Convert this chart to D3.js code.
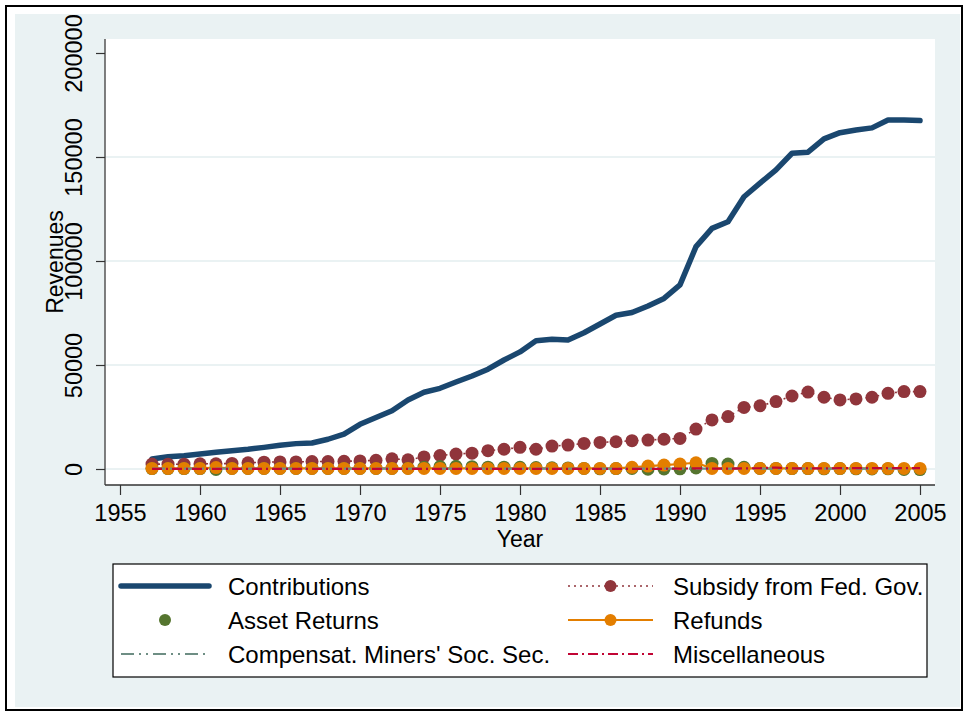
<!DOCTYPE html>
<html><head><meta charset="utf-8">
<script src="https://d3js.org/d3.v7.min.js"></script>
<style>
html,body{margin:0;padding:0;background:#fff;}
svg text{font-family:"Liberation Sans",Arial,sans-serif;fill:#000;}
</style></head>
<body>
<svg id="chart" width="968" height="716"></svg>
<script>
const years = d3.range(1957, 2006);
const contributions = [4800,5900,6400,7200,8000,8800,9500,10400,11400,12200,12500,14300,16800,21500,24800,28000,33200,36900,38800,41800,44700,48000,52400,56300,61700,62400,62000,65500,69700,73900,75200,78400,82000,88500,106900,115700,118900,130900,137400,143800,151800,152300,158700,161700,163000,164000,167800,167800,167500];
const subsidy = [2400,2300,2300,2500,2500,2700,3000,3300,3400,3400,3600,3600,3700,3900,4200,4900,4400,5800,6500,7200,7600,8800,9500,10400,9500,11000,11500,12300,12800,13100,13600,13900,14300,14700,19200,23600,25200,29600,30400,32400,35100,37000,34500,33200,33700,34500,36400,37200,37200];
const assetReturns = [200,200,200,200,-200,300,300,300,300,300,300,300,300,300,300,300,400,900,1200,1300,1100,900,900,800,700,600,500,300,100,200,300,-100,0,100,500,2700,2400,800,300,300,200,200,100,200,100,0,100,-200,-300];
const refunds = [300,300,300,300,700,300,300,300,300,300,300,300,300,300,300,300,300,300,300,300,300,300,300,300,300,300,300,300,300,300,800,1400,1900,2400,3000,300,300,300,300,300,300,300,300,300,300,300,300,300,300];
const compensat = [200,200,200,200,200,200,200,200,200,200,200,200,200,200,200,200,200,200,200,200,200,200,200,200,200,200,200,200,200,200,200,200,200,200,200,200,200,200,200,200,200,200,200,200,200,200,200,200,200];
const miscellaneous = [100,100,100,100,100,100,100,100,100,100,100,100,100,100,100,100,100,100,100,100,100,100,100,100,100,100,100,100,100,100,100,100,100,200,300,200,200,300,400,700,300,300,300,400,400,400,400,400,400];
const xTicks = [1955,1960,1965,1970,1975,1980,1985,1990,1995,2000,2005];
const yTicks = [0,50000,100000,150000,200000];
const seriesNames = ["Contributions","Subsidy from Fed. Gov.","Asset Returns","Refunds","Compensat. Miners' Soc. Sec.","Miscellaneous"];

const svg = d3.select("#chart");
svg.append("rect").attr("x",6).attr("y",6).attr("width",956).attr("height",704)
  .attr("fill","#fff").attr("stroke","#000").attr("stroke-width",2);
svg.append("rect").attr("x",15).attr("y",14).attr("width",945).attr("height",693).attr("fill","#eaf2f3");

const L=105, R=935, T=39, B=485;
svg.append("rect").attr("x",L).attr("y",T).attr("width",R-L).attr("height",B-T).attr("fill","#fff");

const x = d3.scaleLinear().domain([1955,2005]).range([120,920]);
const y = d3.scaleLinear().domain([0,200000]).range([469,53]);

svg.append("g").selectAll("line").data(yTicks.filter(d=>d<200000)).join("line")
  .attr("x1",L).attr("x2",R).attr("y1",d=>y(d)).attr("y2",d=>y(d))
  .attr("stroke","#eaf2f3").attr("stroke-width",2);

const yAxis = svg.append("g").attr("transform",`translate(${L},0)`)
  .call(d3.axisLeft(y).tickValues(yTicks).tickSize(9).tickFormat(d3.format("d")));
yAxis.select(".domain").attr("d",`M0,${B}V${T}`).attr("stroke","#555").attr("stroke-width",1.5);
yAxis.selectAll(".tick line").attr("stroke","#333").attr("stroke-width",1.2);
yAxis.selectAll(".tick text").attr("font-size",23.5).attr("font-family","Liberation Sans, Arial, sans-serif")
  .attr("fill","#000").attr("text-anchor","middle").attr("dy",null).attr("x",null)
  .attr("transform","translate(-23,0) rotate(-90)");

const xAxis = svg.append("g").attr("transform",`translate(0,${B})`)
  .call(d3.axisBottom(x).tickValues(xTicks).tickSize(10).tickFormat(d3.format("d")));
xAxis.select(".domain").attr("d",`M${L},0H${R}`).attr("stroke","#333").attr("stroke-width",1.5);
xAxis.selectAll(".tick line").attr("stroke","#333").attr("stroke-width",1.2);
xAxis.selectAll(".tick text").attr("font-size",23.5).attr("font-family","Liberation Sans, Arial, sans-serif")
  .attr("fill","#000").attr("dy",null).attr("y",36);

svg.append("text").attr("x",(L+R)/2).attr("y",547).attr("text-anchor","middle").attr("font-size",23).text("Year");
svg.append("text").attr("transform",`translate(63,${(T+B)/2}) rotate(-90)`).attr("text-anchor","middle").attr("font-size",23).text("Revenues");

const colors = {contrib:"#1a476f", subsidy:"#90353b", asset:"#55752f", refunds:"#e37e00", comp:"#6e8e84", misc:"#c10534"};
const line = arr => d3.line().x((d,i)=>x(years[i])).y(d=>y(d))(arr);
const plot = svg.append("g");

plot.append("path").attr("d",line(contributions)).attr("fill","none").attr("stroke",colors.contrib)
  .attr("stroke-width",5.5).attr("stroke-linejoin","round").attr("stroke-linecap","round");
plot.append("path").attr("d",line(subsidy)).attr("fill","none").attr("stroke",colors.subsidy)
  .attr("stroke-width",1.6).attr("stroke-dasharray","2,4");
plot.append("g").selectAll("circle").data(subsidy).join("circle")
  .attr("cx",(d,i)=>x(years[i])).attr("cy",d=>y(d)).attr("r",6.5).attr("fill",colors.subsidy);
plot.append("g").selectAll("circle").data(assetReturns).join("circle")
  .attr("cx",(d,i)=>x(years[i])).attr("cy",d=>y(d)).attr("r",6.5).attr("fill",colors.asset);
plot.append("path").attr("d",line(refunds)).attr("fill","none").attr("stroke",colors.refunds).attr("stroke-width",2.2);
plot.append("g").selectAll("circle").data(refunds).join("circle")
  .attr("cx",(d,i)=>x(years[i])).attr("cy",d=>y(d)).attr("r",6.5).attr("fill",colors.refunds);
plot.append("path").attr("d",line(compensat)).attr("fill","none").attr("stroke",colors.comp)
  .attr("stroke-width",2.2).attr("stroke-dasharray","13,5,2,5,2,5");
plot.append("path").attr("d",line(miscellaneous)).attr("fill","none").attr("stroke",colors.misc)
  .attr("stroke-width",2.2).attr("stroke-dasharray","10,4,2,4");

const lg = svg.append("g");
lg.append("rect").attr("x",113).attr("y",564).attr("width",814).attr("height",113)
  .attr("fill","#fff").attr("stroke","#000").attr("stroke-width",1.2);
const rows=[586,620,654];
const col1={x0:121,x1:209,tx:228}, col2={x0:568,x1:653,tx:673};
const items=[
  {name:seriesNames[0], c:col1, r:0, stroke:colors.contrib, sw:5.5, dash:null, dot:null},
  {name:seriesNames[1], c:col2, r:0, stroke:colors.subsidy, sw:1.6, dash:"2,4", dot:colors.subsidy},
  {name:seriesNames[2], c:col1, r:1, stroke:null, dot:colors.asset},
  {name:seriesNames[3], c:col2, r:1, stroke:colors.refunds, sw:2.2, dash:null, dot:colors.refunds},
  {name:seriesNames[4], c:col1, r:2, stroke:colors.comp, sw:2.2, dash:"13,5,2,5,2,5", dot:null},
  {name:seriesNames[5], c:col2, r:2, stroke:colors.misc, sw:2.2, dash:"10,4,2,4", dot:null}
];
items.forEach(it=>{
  const yy=rows[it.r];
  if(it.stroke){
    const l=lg.append("line").attr("x1",it.c.x0).attr("x2",it.c.x1).attr("y1",yy).attr("y2",yy)
      .attr("stroke",it.stroke).attr("stroke-width",it.sw);
    if(it.dash) l.attr("stroke-dasharray",it.dash);
    if(it.sw>4) l.attr("stroke-linecap","round");
  }
  if(it.dot) lg.append("circle").attr("cx",(it.c.x0+it.c.x1)/2).attr("cy",yy).attr("r",6).attr("fill",it.dot);
  lg.append("text").attr("x",it.c.tx).attr("y",yy+8.5).attr("font-size",24).text(it.name);
});
</script>
</body></html>
